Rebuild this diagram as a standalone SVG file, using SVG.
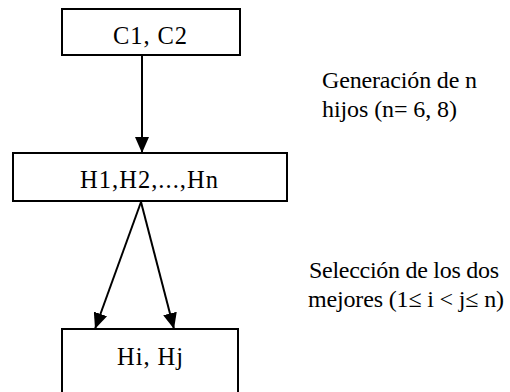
<svg xmlns="http://www.w3.org/2000/svg" width="510" height="392" viewBox="0 0 510 392">
<style>
.box{fill:#fff;stroke:#000;stroke-width:2}
.c{stroke:#000;stroke-width:2;fill:none}
text{fill:#000}
</style>
<defs>
<marker id="a" viewBox="0 0 16 14" refX="16" refY="7" markerWidth="16" markerHeight="14" markerUnits="userSpaceOnUse" orient="auto">
<path d="M0,0 L16,7 L0,14 Z" fill="#000"/>
</marker>
</defs>
<rect width="510" height="392" fill="#fff"/>
<g id="connectors">
<line class="c" x1="142" y1="56" x2="142" y2="153" marker-end="url(#a)"/>
<line class="c" x1="141" y1="202" x2="95" y2="329" marker-end="url(#a)"/>
<line class="c" x1="141" y1="202" x2="174" y2="329" marker-end="url(#a)"/>
</g>
<g font-family="Liberation Serif, serif" font-size="24.5">
<g id="node-c1c2">
<rect class="box" x="62" y="9" width="178" height="46"/>
<text x="113" y="44" textLength="74" lengthAdjust="spacing">C1, C2</text>
</g>
<g id="node-h1hn">
<rect class="box" x="13" y="153" width="274" height="48"/>
<text x="80" y="188" textLength="138" lengthAdjust="spacing">H1,H2,...,Hn</text>
</g>
<g id="node-hihj">
<rect class="box" x="62" y="329" width="176" height="70"/>
<text x="117" y="365" textLength="66" lengthAdjust="spacing">Hi, Hj</text>
</g>
</g>
<g font-family="Liberation Serif, serif" font-size="24">
<g id="label-generacion">
<text x="322" y="88" textLength="155" lengthAdjust="spacing">Generación de n</text>
<text x="322" y="117" textLength="135" lengthAdjust="spacing">hijos (n= 6, 8)</text>
</g>
<g id="label-seleccion">
<text x="309" y="278" textLength="190" lengthAdjust="spacing">Selección de los dos</text>
<text x="308" y="307" textLength="196" lengthAdjust="spacing">mejores (1≤ i &lt; j≤ n)</text>
</g>
</g>
</svg>
